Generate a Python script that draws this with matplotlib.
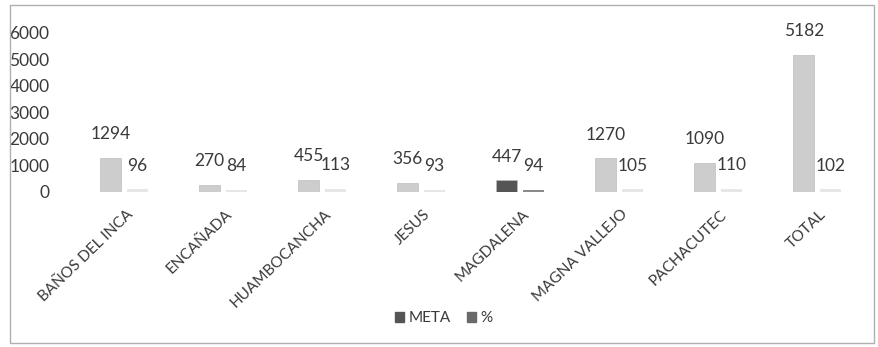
import numpy as np
import matplotlib.pyplot as plt
from matplotlib.patches import Rectangle, Patch

plt.rcParams['font.family'] = ['Lato', 'DejaVu Sans']

# data
distritos = ['BAÑOS DEL INCA', 'ENCAÑADA', 'HUAMBOCANCHA', 'JESUS',
             'MAGDALENA', 'MAGNA VALLEJO', 'PACHACUTEC', 'TOTAL']
meta = [1294, 270, 455, 356, 447, 1270, 1090, 5182]
porcentaje = [96, 84, 113, 93, 94, 105, 110, 102]
yticks = [0, 1000, 2000, 3000, 4000, 5000, 6000]

txt = '#3a3a3a'
light = '#cdcdcd'
dark = '#555555'

fig = plt.figure(figsize=(8.79, 3.47), dpi=100)
ax = fig.add_axes([0.0847, 0.4467, 0.9013, 0.4583])

x = np.arange(len(distritos))
w = 0.21
meta_cols = [dark if d == 'MAGDALENA' else light for d in distritos]
pct_cols = ['#8a8a8a' if d == 'MAGDALENA' else '#e6e6e6' for d in distritos]

ax.bar(x - 0.135, meta, width=w, color=meta_cols, edgecolor='#bdbdbd', linewidth=0.5)
ax.bar(x + 0.135, porcentaje, width=w, color=pct_cols)

for xi, v in zip(x, meta):
    ax.annotate(str(v), (xi - 0.135, v), xytext=(0, 17), textcoords='offset points',
                ha='center', va='center', fontsize=12.5, color=txt, annotation_clip=False)
for xi, v in zip(x, porcentaje):
    ax.annotate(str(v), (xi + 0.135, v), xytext=(0, 17), textcoords='offset points',
                ha='center', va='center', fontsize=12.5, color=txt, annotation_clip=False)

ax.set_xlim(-0.5, len(distritos) - 0.5)
ax.set_ylim(0, 6000)
ax.set_yticks(yticks)
ax.set_yticklabels([str(t) for t in yticks], fontsize=12.5, color=txt)
ax.set_xticks(x + 0.02)
ax.set_xticklabels(distritos, rotation=44, ha='right', rotation_mode='anchor',
                   fontsize=11, color=txt)
ax.tick_params(axis='both', length=0)
ax.tick_params(axis='y', pad=18)
ax.tick_params(axis='x', pad=11)
for s in ax.spines.values():
    s.set_visible(False)

handles = [Patch(color=dark, label='META'), Patch(color='#6a6a6a', label='%')]
fig.legend(handles=handles, loc='center', bbox_to_anchor=(0.505, 0.083), ncol=2,
           frameon=False, fontsize=11, handlelength=0.6, handleheight=0.6,
           handletextpad=0.3, columnspacing=1.0, labelcolor=txt)

# chart frame
fig.patches.append(Rectangle((0.0114, 0.012), 0.983, 0.974, transform=fig.transFigure,
                             fill=False, edgecolor='#b0b0b0', linewidth=1))

fig.savefig('out.png', dpi=100)
